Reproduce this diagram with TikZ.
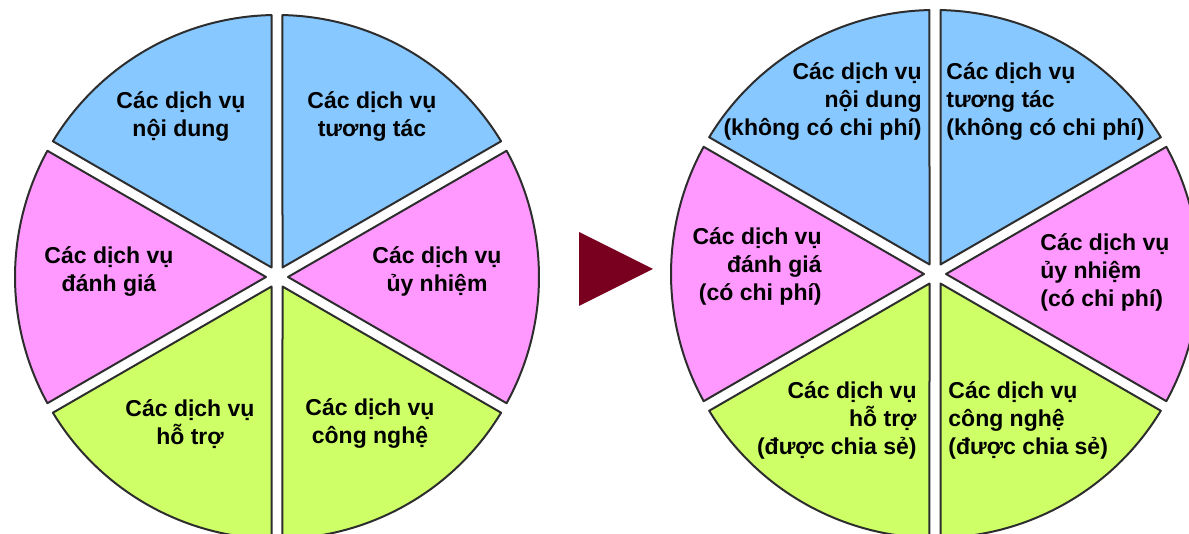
\documentclass[tikz,border=0pt]{standalone}
\usepackage{fontspec}
\setmainfont{Liberation Sans}
\usetikzlibrary{positioning}
\definecolor{paleblue}{RGB}{134,200,255}
\definecolor{palepink}{RGB}{255,153,255}
\definecolor{palegreen}{RGB}{206,255,102}
\definecolor{rim}{RGB}{45,45,45}
\definecolor{arrowred}{RGB}{122,0,32}

\begin{document}
\begin{tikzpicture}[x=0.5pt,y=0.5pt,
    sec/.style={draw=rim,line width=1pt,line join=round},
    lbl/.style={font=\bfseries\fontsize{11.5}{14}\selectfont,inner sep=0pt},
  ]
      \useasboundingbox (0,0) rectangle (1189,534);
      \clip (0,0) rectangle (1189,534);
      % left pie
      \begin{scope}[shift={(277,257)}]
        \draw[sec,fill=paleblue] (60:11) -- (31.2:262) arc[start angle=31.2,end angle=88.8,radius=262] -- cycle;
        \draw[sec,fill=paleblue] (120:11) -- (91.2:262) arc[start angle=91.2,end angle=148.8,radius=262] -- cycle;
        \draw[sec,fill=palepink] (180:11) -- (151.2:262) arc[start angle=151.2,end angle=208.8,radius=262] -- cycle;
        \draw[sec,fill=palegreen] (240:11) -- (211.2:262) arc[start angle=211.2,end angle=268.8,radius=262] -- cycle;
        \draw[sec,fill=palegreen] (300:11) -- (271.2:262) arc[start angle=271.2,end angle=328.8,radius=262] -- cycle;
        \draw[sec,fill=palepink] (0:11) -- (-28.8:262) arc[start angle=-28.8,end angle=28.8,radius=262] -- cycle;
      \end{scope}
      \node[lbl,align=center] (noidung) at (181,417) {Các dịch vụ\\nội dung};
      \node[lbl,align=center] (tuongtac) at (372,417) {Các dịch vụ\\tương tác};
      \node[lbl,align=center] (danhgia) at (109,262) {Các dịch vụ\\đánh giá};
      \node[lbl,align=center] (uynhiem) at (437,263) {Các dịch vụ\\ủy nhiệm};
      \node[lbl,align=center] (hotro) at (190,110) {Các dịch vụ\\hỗ trợ};
      \node[lbl,align=center] (congnghe) at (370,110) {Các dịch vụ\\công nghệ};
      % arrow
      \fill[arrowred] (579,302) -- (579,228) -- (653,265) -- cycle;
      % right pie
      \begin{scope}[shift={(935,260)}]
        \draw[sec,fill=paleblue] (60:11) -- (31.2:264) arc[start angle=31.2,end angle=88.8,radius=264] -- cycle;
        \draw[sec,fill=paleblue] (120:11) -- (91.2:264) arc[start angle=91.2,end angle=148.8,radius=264] -- cycle;
        \draw[sec,fill=palepink] (180:11) -- (151.2:264) arc[start angle=151.2,end angle=208.8,radius=264] -- cycle;
        \draw[sec,fill=palegreen] (240:11) -- (211.2:264) arc[start angle=211.2,end angle=268.8,radius=264] -- cycle;
        \draw[sec,fill=palegreen] (300:11) -- (271.2:264) arc[start angle=271.2,end angle=328.8,radius=264] -- cycle;
        \draw[sec,fill=palepink] (0:11) -- (-28.8:264) arc[start angle=-28.8,end angle=28.8,radius=264] -- cycle;
      \end{scope}
      \node[lbl,align=right,anchor=east] (noidungB) at (922,432) {Các dịch vụ\\nội dung\\(không có chi phí)};
      \node[lbl,align=left,anchor=west] (tuongtacB) at (946,432) {Các dịch vụ\\tương tác\\(không có chi phí)};
      \node[lbl,align=right,anchor=east] (danhgiaB) at (822,268) {Các dịch vụ\\đánh giá\\(có chi phí)};
      \node[lbl,align=left,anchor=west] (uynhiemB) at (1040,262) {Các dịch vụ\\ủy nhiệm\\(có chi phí)};
      \node[lbl,align=right,anchor=east] (hotroB) at (917,114) {Các dịch vụ\\hỗ trợ\\(được chia sẻ)};
      \node[lbl,align=left,anchor=west] (congngheB) at (948,114) {Các dịch vụ\\công nghệ\\(được chia sẻ)};
\end{tikzpicture}
\end{document}
